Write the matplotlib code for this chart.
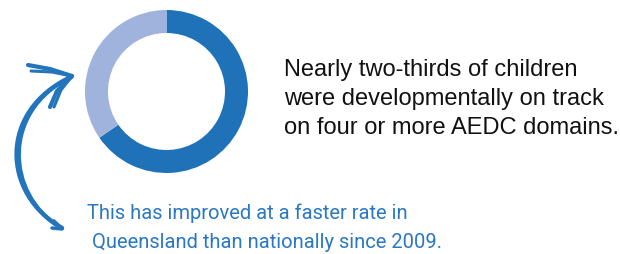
import matplotlib
matplotlib.use("Agg")
import matplotlib.pyplot as plt
import numpy as np
from matplotlib.path import Path
from matplotlib.patches import PathPatch

# data
segments = ["On track on 4+ domains", "Other"]
shares = [65.4, 34.6]
seg_colors = ["#1f72b8", "#a0b3dc"]
statement = "Nearly two-thirds of children\nwere developmentally on track\non four or more AEDC domains."
note_lines = ["This has improved at a faster rate in", " Queensland than nationally since 2009."]

W, H = 620, 255
fig = plt.figure(figsize=(6.2, 2.55), dpi=100)
ax = fig.add_axes([0, 0, 1, 1])

def Y(py):
    return H - py

ax.pie(shares, colors=seg_colors, startangle=90, counterclock=False,
       center=(166.5, Y(92.5)), radius=81.5,
       wedgeprops=dict(width=23, edgecolor="none", linewidth=0))

ax.text(284, Y(134), statement, fontsize=17, family=["Liberation Sans", "DejaVu Sans"],
        color="#111111", va="baseline", ha="left", linespacing=1.42)

blue = "#2274bd"
# hand-drawn arrow shaft (two strokes)
for off, lw in [(0, 3.2), (3.5, 2.6)]:
    verts = [(62 - off * 0.3, Y(229)), (2 + off, Y(195)), (-2 + off, Y(112)), (71, Y(78))]
    p = Path(verts, [Path.MOVETO, Path.CURVE4, Path.CURVE4, Path.CURVE4])
    ax.add_patch(PathPatch(p, fill=False, edgecolor=blue, lw=lw, capstyle="round"))
# tail
ax.plot([54, 62, 52], [Y(222), Y(230), Y(229)], color=blue, lw=2.5, solid_capstyle="round")
# arrowhead barbs
ax.plot([28, 50, 72], [Y(66), Y(70), Y(77)], color=blue, lw=3, solid_capstyle="round")
ax.plot([31, 52, 72], [Y(72), Y(73), Y(77)], color=blue, lw=2.2, solid_capstyle="round")
ax.plot([50, 57, 72], [Y(108), Y(92), Y(77)], color=blue, lw=3, solid_capstyle="round")
ax.plot([54, 61, 72], [Y(108), Y(91), Y(77)], color=blue, lw=2.2, solid_capstyle="round")

hand_font = ["Roboto", "DejaVu Sans"]
ax.text(87, Y(213), note_lines[0], fontsize=14.5, family=hand_font, color="#2a78c2",
        va="center", ha="left")
ax.text(87, Y(243), note_lines[1], fontsize=14.5, family=hand_font, color="#2a78c2",
        va="center", ha="left")

ax.set_xlim(0, W)
ax.set_ylim(0, H)
ax.set_aspect("equal")
ax.axis("off")
fig.savefig("out.png", dpi=100, facecolor="white")
